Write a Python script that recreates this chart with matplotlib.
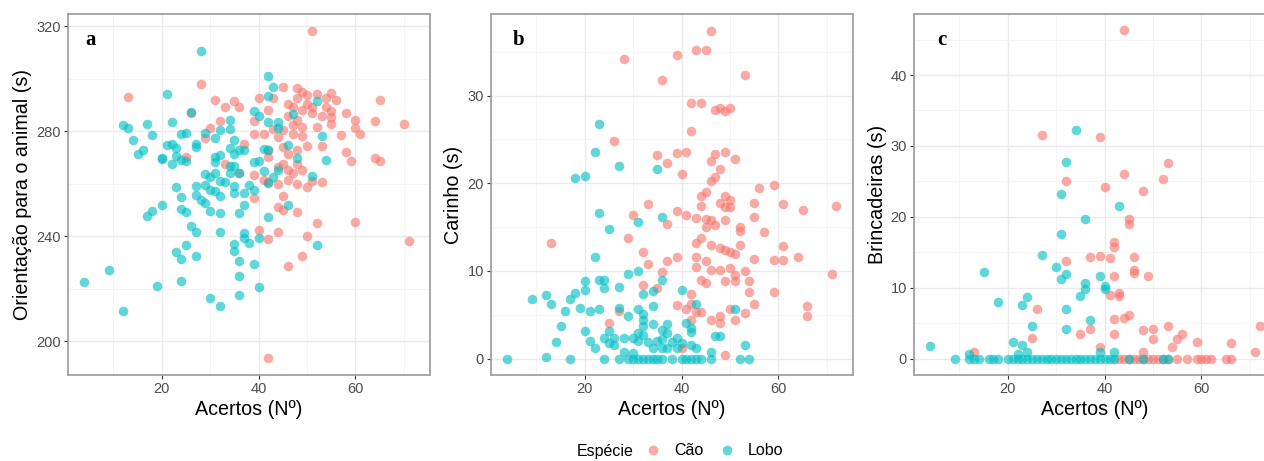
import matplotlib
matplotlib.use("Agg")
import matplotlib.pyplot as plt
from matplotlib.ticker import MultipleLocator
from matplotlib.lines import Line2D

# (acertos, segundos) para cada animal
lobo_a = [(28, 310.5), (42, 301), (43, 297), (21, 294.3), (42, 293.5), (52, 291.5), (26, 287.3), (39, 287.7), (40, 285.7), (47, 286.5),
          (12, 282.3), (13, 281.3), (17, 282.9), (22, 283.5), (34, 284.2), (44, 283.5), (42, 283.5), (14, 276.8), (18, 278.6), (24, 278.9),
          (25, 279.5), (29, 279.5), (32, 280.4), (34, 281), (44, 281.4), (31, 277.5), (35, 276.8), (53, 278.1), (21, 274.9), (22, 275.3),
          (27, 275.3), (23, 273.7), (27, 274), (15, 271.3), (16, 272.7), (20, 269.9), (20, 269.3), (22, 267.5), (23, 270.6), (24, 269.2),
          (25, 268.7), (31, 270.3), (31, 268.4), (32, 270.9), (34, 273.5), (35, 271.5), (36, 272.7), (37, 273), (34, 266.8), (35, 266.8),
          (39, 268.4), (40, 268.7), (41, 273.4), (42, 273), (41, 264.8), (43, 262.7), (44, 265.4), (46, 274.7), (48, 270), (54, 269),
          (51, 263), (29, 263.7), (30, 262.7), (31, 264), (32, 261.2), (33, 260.8), (34, 264), (36, 264.2), (23, 258.9), (27, 259.1),
          (29, 259.5), (30, 257.6), (31, 257.3), (32, 255.3), (35, 259.1), (35, 256.6), (37, 256.6), (38, 259.5), (39, 257.8), (42, 260.1),
          (24, 255.1), (27, 255.7), (28, 253.8), (29, 252.8), (20, 251.9), (18, 249.7), (17, 247.8), (24, 250.3), (25, 249.1), (30, 249.6),
          (32, 248.7), (36, 248.9), (37, 251.9), (46, 251.9), (42, 247.5), (26, 243.9), (27, 241.6), (32, 241.5), (37, 241.1), (37, 239.2),
          (38, 237.6), (40, 239.2), (35, 237), (35, 234.4), (52, 236.5), (25, 236.8), (23, 233.9), (24, 231.3), (27, 232.3), (36, 230.4),
          (39, 229.4), (9, 227.2), (36, 224.7), (4, 222.5), (24, 223), (19, 221), (40, 220.6), (30, 216.5), (36, 217.5), (32, 213.3), (12, 211.4)]

cao_a = [(51, 318.4), (28, 298.1), (13, 292.9), (31, 291.8), (33, 289.2), (35, 291.5), (36, 289.2), (40, 292.8), (43, 292.8), (42, 288),
         (45, 296.8), (46, 290.5), (48, 296.6), (49, 294.9), (50, 293.7), (52, 294.1), (55, 294.7), (56, 292), (54, 292.8), (48, 292.8),
         (50, 290.5), (51, 289.2), (54, 289.2), (55, 287.7), (55, 285.4), (55, 282.9), (53, 285.7), (51, 287), (49, 288), (47, 289.2),
         (46, 285.7), (48, 284.2), (49, 281.6), (47, 282.3), (52, 281.6), (58, 287), (60, 284.4), (60, 281.4), (61, 278.9), (64, 283.9),
         (65, 292), (70, 282.9), (57, 278.7), (53, 274.3), (50, 274.3), (49, 278.1), (47, 279.1), (45, 280.4), (44, 277.8), (43, 281),
         (41, 279.1), (39, 279.1), (39, 283.8), (32, 283.9), (30, 281.4), (29, 277.6), (26, 286.9), (37, 275), (42, 272.8), (42, 270.3),
         (45, 274), (46, 271.5), (48, 272.8), (48, 267.7), (45, 267.7), (44, 266.5), (46, 265.2), (47, 264), (49, 265.2), (58, 272.2),
         (59, 268.7), (64, 269.9), (65, 268.7), (25, 270.3), (33, 267.7), (36, 264.2), (39, 263.3), (41, 261.4), (42, 260.8), (44, 259.9),
         (46, 261.4), (48, 259.9), (50, 258.9), (51, 261.2), (53, 260.8), (45, 255.3), (39, 254.7), (44, 251.3), (45, 250), (48, 249.4),
         (52, 244.9), (60, 245.6), (40, 242.2), (44, 241.6), (42, 239.1), (50, 240.1), (71, 238.2), (49, 232.3), (46, 228.7), (42, 193.4)]

cao_b = [(46, 37.4), (43, 35.2), (45, 35.2), (39, 34.6), (28, 34.2), (36, 31.8), (53, 32.4), (42, 29.2), (44, 29.2), (47, 28.4),
         (48, 28.6), (49, 28.2), (50, 28.6), (42, 26), (26, 24.8), (35, 23.2), (37, 22.3), (39, 23.4), (41, 23.6), (40, 21),
         (46, 22.5), (47, 23.3), (49, 23.6), (51, 22.8), (48, 21.6), (47, 20.7), (46, 20.3), (45, 19), (44, 18.6), (56, 19.4),
         (59, 19.8), (49, 18.6), (50, 18.1), (48, 17.8), (49, 17.3), (50, 17.3), (44, 17.4), (55, 17.8), (61, 17.6), (65, 17),
         (72, 17.4), (33, 17.6), (30, 16.4), (39, 16.8), (41, 16.4), (43, 16), (45, 15.9), (46, 15.8), (49, 15.8), (37, 15.4),
         (45, 15), (47, 15.2), (52, 15), (52, 14.5), (55, 16.2), (57, 14.4), (29, 13.8), (13, 13.2), (44, 13.8), (43, 13.2),
         (46, 13), (48, 12.6), (49, 12.4), (50, 12.1), (51, 11.9), (52, 13), (61, 12.8), (32, 12.2), (37, 11.1), (39, 11.6),
         (43, 11.6), (45, 11.1), (55, 11.4), (59, 11.2), (61, 11.2), (64, 11.6), (33, 10.8), (43, 10.4), (46, 10.1), (48, 10.1),
         (50, 10.3), (53, 10), (71, 9.6), (36, 9.9), (44, 9), (45, 8.6), (49, 8.8), (51, 8.8), (51, 9.5), (54, 8.8),
         (32, 8.4), (35, 8.1), (42, 7.4), (54, 7.6), (59, 7.6), (39, 6.1), (42, 6.2), (55, 6.2), (66, 6), (66, 4.8),
         (27, 5.4), (41, 5.6), (43, 5.3), (44, 5.3), (50, 5.6), (53, 5.2), (42, 4.4), (46, 4.4), (48, 4.1), (48, 4.8),
         (51, 4.4), (25, 4.1), (40, 1.2), (49, 0.4)]

lobo_b = [(23, 26.8), (22, 23.6), (27, 22), (35, 21.6), (18, 20.6), (20, 20.8), (23, 16.6), (36, 16.2), (31, 15.6), (25, 14.8),
          (22, 11.6), (29, 9.6), (31, 10), (20, 8.8), (20, 7.8), (18, 7.5), (23, 9), (24, 9), (24, 8), (27, 8.2),
          (36, 9), (9, 6.8), (12, 7.2), (13, 6.2), (17, 6.8), (16, 5.4), (19, 5.8), (21, 5.4), (23, 5.6), (27, 5.8),
          (32, 7.4), (34, 7.7), (40, 7.8), (43, 6.2), (34, 6), (29, 4.8), (31, 5.6), (32, 5.1), (32, 4.4), (51, 5.6),
          (15, 3.7), (20, 3.2), (14, 1.9), (21, 2), (22, 1.2), (24, 2.4), (25, 3.2), (25, 1.8), (26, 2.4), (26, 1.5),
          (28, 2.4), (30, 2.4), (31, 2.9), (31, 2), (32, 3.7), (32, 2.7), (33, 1.9), (34, 3.9), (35, 2), (36, 3.3),
          (36, 2.2), (37, 3.9), (37, 2.9), (37, 1.2), (38, 1.9), (39, 2.4), (40, 1.8), (41, 4.1), (42, 3.5), (42, 3),
          (39, 1.2), (36, 1.2), (34, 1.2), (28, 0.8), (30, 0.6), (42, 1.6), (43, 1.2), (47, 2.6), (48, 2.6), (46, 0.8),
          (53, 1.6), (4, 0), (12, 0.2), (17, 0), (24, 0), (27, 0), (29, 0), (30, 0), (31, 0), (32, 0),
          (33, 0), (34, 0), (35, 0), (36, 0), (38, 0), (40, 0), (41, 0), (42, 0), (43, 0), (44, 0),
          (46, 0), (52, 0), (54, 0)]

cao_c = [(44, 46.3), (27, 31.5), (39, 31.2), (53, 27.6), (52, 25.4), (32, 25.1), (44, 26), (40, 24.2), (48, 23.6), (45, 19.7),
         (45, 19), (42, 16.4), (42, 15.7), (32, 13.8), (37, 14.4), (39, 14.5), (41, 14.2), (46, 14.4), (46, 12.5), (46, 12.1),
         (49, 11.6), (42, 11.6), (43, 9.3), (43, 8.8), (41, 9), (26, 7), (42, 5.6), (44, 5.8), (45, 6.1), (53, 4.6),
         (72, 4.6), (37, 4.2), (35, 3.5), (42, 3.5), (48, 4), (50, 4.2), (50, 2.8), (56, 3.5), (55, 2.8), (25, 2.9),
         (59, 2.3), (66, 2.2), (54, 1.6), (71, 1), (13, 0.9), (39, 1.6), (48, 1),
         (43, 0), (44, 0), (45, 0), (46, 0), (47, 0), (48, 0), (49, 0), (50, 0), (51, 0), (52, 0),
         (53, 0), (55, 0), (57, 0), (59, 0), (60, 0), (61, 0), (62, 0), (65, 0), (66, 0)]

lobo_c = [(34, 32.3), (32, 27.7), (31, 23.2), (43, 21.5), (36, 19.7), (31, 17.6), (27, 14.6), (30, 12.9), (32, 12), (31, 11.3),
          (15, 12.2), (39, 11.7), (36, 10.6), (36, 9.8), (40, 10.2), (40, 9.8), (35, 8.8), (24, 8.7), (23, 7.6), (18, 8),
          (32, 7), (25, 4.6), (37, 5.4), (32, 4.2), (21, 2.3), (23, 1.9), (4, 1.8), (12, 0.7), (24, 0.9), (22, 0.6),
          (39, 1), (42, 0.9)]
lobo_c_zero = [9, 12, 13, 14, 16, 17, 18, 20, 21, 22, 23, 24, 25, 26, 27, 28, 29, 30, 31, 32, 33,
               34, 35, 36, 37, 38, 39, 40, 41, 42, 45, 48, 52, 53]

labels = ["a", "b", "c"]
ylabels = ["Orientação para o animal (s)", "Carinho (s)", "Brincadeiras (s)"]
species = ["Cão", "Lobo"]
cores = ["#F8766D", "#00BFC4"]

plt.rcParams['font.family'] = ['Liberation Sans', 'DejaVu Sans']

fig = plt.figure(figsize=(12.64, 4.61), dpi=100)

lefts = [0.0538, 0.3884, 0.7231]
axes = [fig.add_axes([l, 0.1866, 0.2864, 0.783]) for l in lefts]

dados = [(cao_a, lobo_a), (cao_b, lobo_b), (cao_c, lobo_c + [(x, 0) for x in lobo_c_zero])]
ylims = [(187.1, 324.7), (-1.87, 39.3), (-2.3, 48.6)]
ymajor = [40, 10, 10]
letra_x = [0.062, 0.075, 0.078]


def painel(ax, cao, lobo, i):
    for pts, cor in zip((cao, lobo), cores):
        x, y = zip(*pts)
        ax.scatter(x, y, s=48, color=cor, alpha=0.62, linewidths=0, zorder=3)
    ax.set_xlim(0.6, 75.4)
    ax.set_ylim(*ylims[i])
    ax.xaxis.set_major_locator(MultipleLocator(20))
    ax.xaxis.set_minor_locator(MultipleLocator(10))
    ax.yaxis.set_major_locator(MultipleLocator(ymajor[i]))
    ax.yaxis.set_minor_locator(MultipleLocator(ymajor[i] / 2))
    ax.grid(which="major", color="#EBEBEB", linewidth=1.0, zorder=0)
    ax.grid(which="minor", color="#F4F4F4", linewidth=0.6, zorder=0)
    ax.set_axisbelow(True)
    ax.tick_params(which="major", length=3, width=0.8, color="#333333",
                   labelsize=10.5, labelcolor="#4D4D4D", pad=2)
    ax.tick_params(which="minor", length=0)
    for s in ax.spines.values():
        s.set_color("#9a9a9a")
        s.set_linewidth(1.2)
    ax.set_xlabel("Acertos (Nº)", fontsize=14.2, labelpad=3)
    ax.set_ylabel(ylabels[i], fontsize=14.2, labelpad=3)
    ax.text(letra_x[i], 0.928, labels[i], transform=ax.transAxes, ha="center", va="center",
            fontsize=15, fontweight="bold", family="Liberation Serif")


for i, ax in enumerate(axes):
    painel(ax, dados[i][0], dados[i][1], i)

handles = [Line2D([], [], marker="o", linestyle="", markersize=7, markerfacecolor=c,
                  markeredgewidth=0, alpha=0.62) for c in cores]
fig.text(0.4565, 0.02, "Espécie", fontsize=11.5, va="center", ha="left")
fig.legend(handles, species, loc="center left", bbox_to_anchor=(0.5105, 0.022), ncol=2,
           frameon=False, fontsize=11.5, handletextpad=0.8, columnspacing=1.0, handlelength=1.0,
           borderaxespad=0, borderpad=0)

fig.savefig("out.png", dpi=100)
